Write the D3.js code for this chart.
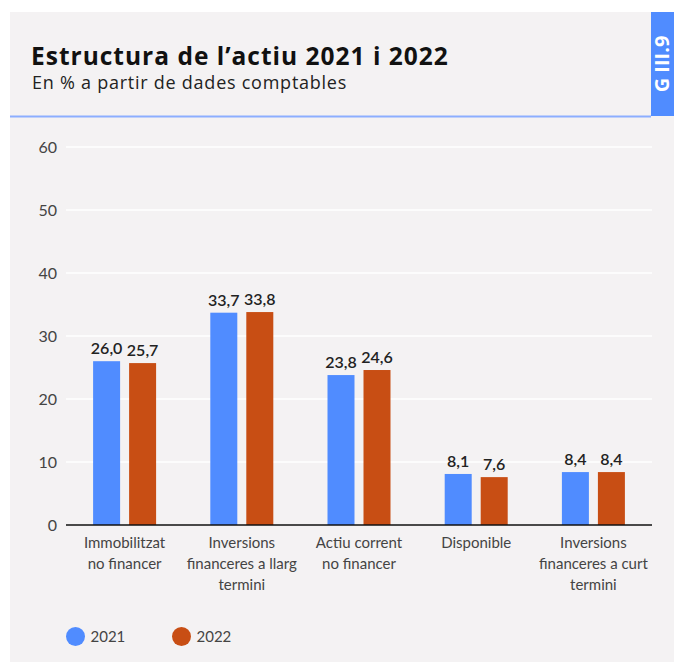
<!DOCTYPE html>
<html>
<head>
<meta charset="utf-8">
<script src="https://cdn.jsdelivr.net/npm/d3@7"></script>
<style>
  html, body { margin: 0; padding: 0; background: #ffffff; }
  svg { display: block; font-family: Lato, "Open Sans", sans-serif; }
</style>
</head>
<body>
<svg id="chart" width="674" height="663"></svg>
<script>
const categories = [
  ["Immobilitzat", "no financer"],
  ["Inversions", "financeres a llarg", "termini"],
  ["Actiu corrent", "no financer"],
  ["Disponible"],
  ["Inversions", "financeres a curt", "termini"]
];
const seriesNames = ["2021", "2022"];
const values2021 = [26.0, 33.7, 23.8, 8.1, 8.4];
const values2022 = [25.7, 33.8, 24.6, 7.6, 8.4];
const yTicks = [0, 10, 20, 30, 40, 50, 60];
const colors = ["#508cff", "#c84e14"];

const svg = d3.select("#chart");

// Card background
svg.append("rect").attr("x", 10).attr("y", 12).attr("width", 664).attr("height", 650).attr("fill", "#f4f2f3");
// Header tab
svg.append("rect").attr("x", 651).attr("y", 12).attr("width", 23).attr("height", 104).attr("fill", "#508cff");
svg.append("text")
  .attr("transform", "translate(669,64) rotate(-90)")
  .attr("text-anchor", "middle")
  .attr("fill", "#ffffff")
  .attr("font-weight", "bold")
  .attr("font-family", "'Open Sans', sans-serif")
  .attr("font-size", 20)
  .text("G III.9");
// Header separator line
svg.append("line").attr("x1", 10).attr("x2", 651).attr("y1", 116.5).attr("y2", 116.5)
  .attr("stroke", "#8caeff").attr("stroke-width", 2);

// Titles
svg.append("text").attr("x", 31).attr("y", 65).attr("font-size", 24.5).attr("font-weight", "bold")
  .attr("font-family", "'Open Sans', sans-serif")
  .attr("letter-spacing", 1)
  .attr("fill", "#111").text("Estructura de l’actiu 2021 i 2022");
svg.append("text").attr("x", 32).attr("y", 89).attr("font-size", 18)
  .attr("font-family", "'Open Sans', sans-serif")
  .attr("letter-spacing", 0.75)
  .attr("fill", "#222").text("En % a partir de dades comptables");

// Scales
const x0 = d3.scaleBand().domain(d3.range(categories.length)).range([66, 652]).paddingInner(0).paddingOuter(0);
const x1 = d3.scaleBand().domain(seriesNames).range([-31.5, 31.5]).paddingInner(0.25);
const y = d3.scaleLinear().domain([0, 60]).range([525, 147]);

// Grid
const yAxis = d3.axisLeft(y).tickValues(yTicks).tickSize(0).tickPadding(9);
const gy = svg.append("g").attr("transform", "translate(66,0)").call(yAxis);
gy.select(".domain").remove();
gy.selectAll("text").attr("font-size", 16).attr("fill", "#444").attr("font-family", "Lato, sans-serif");

svg.append("g").selectAll("line").data(yTicks.filter(d => d > 0)).join("line")
  .attr("x1", 66).attr("x2", 652)
  .attr("y1", d => y(d)).attr("y2", d => y(d))
  .attr("stroke", "#ffffff").attr("stroke-width", 1.5);

// Bars
const data = categories.map((c, i) => ({ i, vals: [values2021[i], values2022[i]] }));
const groups = svg.append("g").selectAll("g").data(data).join("g")
  .attr("transform", d => `translate(${x0(d.i) + x0.bandwidth() / 2},0)`);

groups.selectAll("rect").data(d => d.vals.map((v, k) => ({ v, k }))).join("rect")
  .attr("x", d => x1(seriesNames[d.k]))
  .attr("width", x1.bandwidth())
  .attr("y", d => y(d.v))
  .attr("height", d => y(0) - y(d.v))
  .attr("fill", d => colors[d.k]);

groups.selectAll("text.val").data(d => d.vals.map((v, k) => ({ v, k }))).join("text")
  .attr("class", "val")
  .attr("x", d => x1(seriesNames[d.k]) + x1.bandwidth() / 2)
  .attr("y", d => y(d.v) - 7)
  .attr("text-anchor", "middle")
  .attr("font-size", 16)
  .attr("font-weight", 600)
  .attr("fill", "#222")
  .text(d => d3.format(".1f")(d.v).replace(".", ","));

// Baseline
svg.append("line").attr("x1", 66).attr("x2", 652).attr("y1", y(0)).attr("y2", y(0))
  .attr("stroke", "#111").attr("stroke-width", 1.5);

// X labels
const xl = svg.append("g").selectAll("text").data(data).join("text")
  .attr("text-anchor", "middle")
  .attr("font-size", 15)
  .attr("fill", "#444")
  .attr("x", d => x0(d.i) + x0.bandwidth() / 2);
xl.selectAll("tspan").data(d => categories[d.i].map(t => ({ t, x: x0(d.i) + x0.bandwidth() / 2 }))).join("tspan")
  .attr("x", d => d.x)
  .attr("y", (d, j) => 548 + j * 21)
  .text(d => d.t);

// Legend
const legendX = [75.5, 181.5];
const lg = svg.append("g").selectAll("g").data(seriesNames).join("g")
  .attr("transform", (d, i) => `translate(${legendX[i]},636.5)`);
lg.append("circle").attr("r", 9.5).attr("fill", (d, i) => colors[i]);
lg.append("text").attr("x", 15).attr("y", 5.5).attr("font-size", 15).attr("fill", "#444").text(d => d);
</script>
</body>
</html>
